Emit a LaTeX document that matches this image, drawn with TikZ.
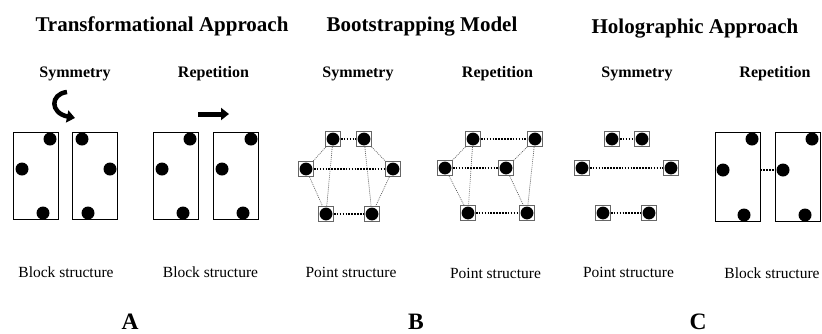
\documentclass[tikz,border=0pt]{standalone}
\usepackage{fontspec}
\setmainfont{Liberation Serif}
\usepackage{tikz}
\usetikzlibrary{arrows.meta, positioning}

\begin{document}
\begin{tikzpicture}[x=1pt, y=-1pt, semithick]
\tikzstyle{heading}=[font=\fontsize{21}{24}\selectfont\bfseries, anchor=base]
\tikzstyle{subhead}=[font=\fontsize{16}{19}\selectfont\bfseries, anchor=base]
\tikzstyle{struct}=[font=\fontsize{15.5}{18}\selectfont, anchor=base]
\tikzstyle{panel}=[font=\fontsize{23.5}{27}\selectfont\bfseries, anchor=base]
\tikzstyle{block}=[rectangle, draw=black, semithick, minimum width=45pt,
                   minimum height=87pt, inner sep=0pt]
\tikzstyle{blob}=[circle, fill=black, minimum size=13pt, inner sep=0pt]
\tikzstyle{pnt}=[rectangle, draw=black!60, thick, minimum size=15pt, inner sep=0pt,
                 path picture={\fill[black] (path picture bounding box.center) circle (6.4pt);}]
\tikzstyle{strong}=[black, line width=1.6pt, dash pattern=on 1.6pt off 1.3pt]
\tikzstyle{faint}=[black!65, line width=0.7pt, dash pattern=on 0.9pt off 1.1pt]
\tikzstyle{bigarrow}=[line width=4.5pt, -{Triangle[length=8pt, width=12pt]}]
  \useasboundingbox (0,0) rectangle (822,333);
  % headings
  \node[heading] (hT) at (162,31) {Transformational Approach};
  \node[heading] (hB) at (422,31) {Bootstrapping Model};
  \node[heading] (hH) at (695,33) {Holographic Approach};
  %
  \node[subhead] (sA) at (75,77) {Symmetry};
  \node[subhead] (rA) at (213.5,77) {Repetition};
  \node[subhead] (sB) at (358,77) {Symmetry};
  \node[subhead] (rB) at (497.5,77) {Repetition};
  \node[subhead] (sC) at (637,77) {Symmetry};
  \node[subhead] (rC) at (775,77) {Repetition};
  %
  % transformational approach: blocks
  \node[block] (A1) at (36,175.5) {};
  \node[block] (A2) at (95,175.5) {};
  \node[block] (A3) at (176,175.5) {};
  \node[block] (A4) at (235.5,175.5) {};
  \node[blob] (a1t) at (50,139) {};
  \node[blob] (a1l) at (22,169) {};
  \node[blob] (a1b) at (43,213) {};
  \node[blob] (a2t) at (82,139) {};
  \node[blob] (a2r) at (110,169) {};
  \node[blob] (a2b) at (88,213) {};
  \node[blob] (a3t) at (190,139) {};
  \node[blob] (a3l) at (162,169) {};
  \node[blob] (a3b) at (183,213) {};
  \node[blob] (a4t) at (251,139) {};
  \node[blob] (a4l) at (222,169) {};
  \node[blob] (a4b) at (243,213) {};
  %
  \coordinate (turnS) at (67,92);
  \coordinate (turnE) at (75,118);
  \draw[bigarrow] (turnS) .. controls (50,94) and (50,113) .. (turnE);
  \coordinate (shiftS) at (198,114);
  \coordinate (shiftE) at (229,114);
  \draw[bigarrow, line width=5pt] (shiftS) -- (shiftE);
  %
  % bootstrapping model: points
  \node[pnt] (P1) at (333,139) {};
  \node[pnt] (P2) at (364,139) {};
  \node[pnt] (P3) at (306,169) {};
  \node[pnt] (P4) at (393,169) {};
  \node[pnt] (P5) at (326,214) {};
  \node[pnt] (P6) at (372,214) {};
  \path[strong] (P1) edge (P2) (P3) edge (P4) (P5) edge (P6);
  \path[faint] (P1) edge (P3) (P1) edge (P5) (P3) edge (P5);
  \path[faint] (P2) edge (P4) (P2) edge (P6) (P4) edge (P6);
  %
  \node[pnt] (Q1) at (473,139) {};
  \node[pnt] (Q2) at (535,139) {};
  \node[pnt] (Q3) at (445,168) {};
  \node[pnt] (Q4) at (506,168) {};
  \node[pnt] (Q5) at (468,213) {};
  \node[pnt] (Q6) at (527,213) {};
  \path[strong] (Q1) edge (Q2) (Q3) edge (Q4) (Q5) edge (Q6);
  \path[faint] (Q1) edge (Q3) (Q1) edge (Q5) (Q3) edge (Q5);
  \path[faint] (Q2) edge (Q4) (Q2) edge (Q6) (Q4) edge (Q6);
  %
  % holographic approach
  \node[pnt] (H1) at (612,139) {};
  \node[pnt] (H2) at (642,139) {};
  \node[pnt] (H3) at (582,168) {};
  \node[pnt] (H4) at (671,168) {};
  \node[pnt] (H5) at (603,213) {};
  \node[pnt] (H6) at (649,213) {};
  \path[strong] (H1) edge (H2) (H3) edge (H4) (H5) edge (H6);
  %
  \node[block, minimum height=89pt] (C1) at (737.5,176.5) {};
  \node[block, minimum height=89pt] (C2) at (797.5,176.5) {};
  \node[blob] (c1t) at (752,139) {};
  \node[blob] (c1l) at (723,170) {};
  \node[blob] (c1b) at (744,215) {};
  \node[blob] (c2t) at (812,139) {};
  \node[blob] (c2l) at (783,170) {};
  \node[blob] (c2b) at (805,215) {};
  \draw[strong] (C1.east |- c2l) -- (c2l);
  %
  % captions
  \node[struct] (bA1) at (66,277) {Block structure};
  \node[struct] (bA2) at (210.5,277) {Block structure};
  \node[struct] (bB1) at (351,277) {Point structure};
  \node[struct] (bB2) at (495.5,278) {Point structure};
  \node[struct] (bC1) at (628.5,277) {Point structure};
  \node[struct] (bC2) at (772,278) {Block structure};
  %
  \node[panel] (lA) at (130,329) {A};
  \node[panel] (lB) at (416,329) {B};
  \node[panel] (lC) at (698,329) {C};
\end{tikzpicture}
\end{document}
